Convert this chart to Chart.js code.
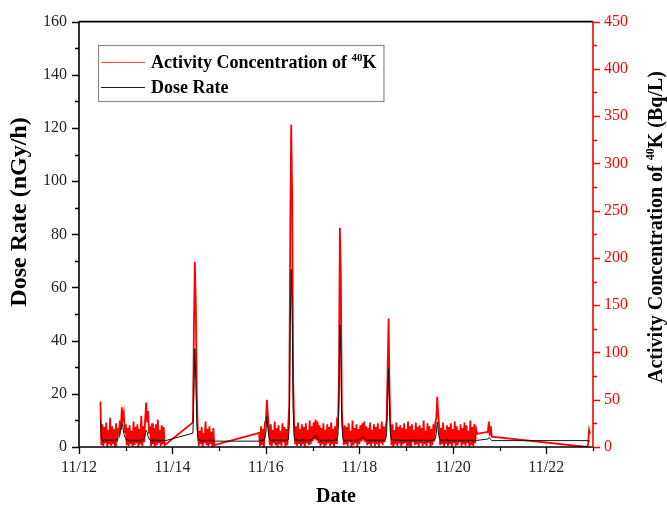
<!DOCTYPE html>
<html>
<head>
<meta charset="utf-8">
<script src="https://cdn.jsdelivr.net/npm/chart.js@4.4.1/dist/chart.umd.min.js"></script>
<style>
  body { margin: 0; background: #fff; }
  #caja { width: 667px; height: 511px; }
</style>
</head>
<body>
<div id="caja"><canvas id="grafico" width="667" height="511"></canvas></div>
<script>
// dias desde 11/12 00:00, una muestra cada 30 min
const inicioTramos = [0.4583, 2.4375, 3.8542, 8.75, 10.875];
const pasoDias = 1 / 48;

const etiquetasFecha = ['11/12', '11/13', '11/14', '11/15', '11/16', '11/17', '11/18', '11/19', '11/20', '11/21', '11/22', '11/23'];

// Actividad 40K (Bq/L)
const actividadA = [48, 2, 24, 1, 21, 4, 26, 0, 18, 3, 31, 1,
  22, 3, 19, 0, 25, 5, 20, 12, 28, 18, 42, 30,
  36, 15, 24, 2, 20, 1, 23, 3, 17, 0, 27, 2,
  21, 4, 24, 0, 19, 3, 33, 1, 22, 5, 30, 47,
  26, 38, 14, 22, 1, 25, 3, 20, 0, 24, 2, 29,
  4, 18, 1, 23, 3, 21, 2];
const actividadB = [26, 120, 196, 150, 55, 18, 1, 17, 3, 21, 0, 15, 4, 27, 2, 19, 1, 22, 3, 16, 0, 20, 2];
const actividadC = [15, 1, 22, 3, 19, 0, 26, 28, 50, 34, 21, 2, 24, 1, 18,
  4, 27, 2, 20, 0, 23, 3, 17, 1, 25, 5, 21, 0, 19, 2,
  24, 45, 230, 341, 260, 70, 24, 3, 22, 1, 26, 4, 19, 1, 24,
  3, 21, 0, 25, 4, 18, 2, 28, 3, 22, 6, 26, 8, 29, 7,
  27, 4, 23, 1, 20, 3, 25, 0, 18, 2, 24, 4, 21, 1, 26,
  3, 19, 0, 22, 4, 27, 24, 70, 232, 180, 40, 20, 2, 23, 3,
  21, 1, 25, 5, 17, 0, 28, 2, 20, 4, 24, 0, 19, 3, 23,
  6, 25, 7, 27, 5, 22, 2, 20, 3, 26, 1, 18, 4, 24, 1,
  21, 3, 25, 0, 19, 4, 27, 2, 22, 5, 20, 28, 80, 136, 60,
  22, 2, 24, 0, 18, 3, 26, 1, 21, 4, 23, 0, 20, 3, 25,
  4, 19, 1, 27, 2, 22, 0, 24, 5, 18, 2, 26, 3, 21, 0,
  23, 4, 20, 1, 28, 3, 17, 1, 25, 4, 22, 0, 19, 2, 24,
  6, 26, 30, 53, 34, 22, 2, 20, 3, 26, 0, 18, 4, 23, 1,
  21, 3, 25, 0, 19, 4, 27, 1, 22, 2, 18, 5, 24, 0, 20,
  3, 26, 1, 23, 4, 17, 0, 28, 2, 21, 1, 24, 4, 19, 14];
const actividadD = [16, 27, 12, 22, 11];
const actividadE = [0, 3, 18, 14];

// Tasa de dosis (nGy/h)
const dosisA = [10, 3.5, 2.6, 2.1, 2.8, 2.3, 2.9, 2.0, 2.6, 2.2, 2.9, 2.3,
  2.7, 2.1, 2.8, 2.4, 3.0, 2.6, 3.2, 3.6, 4.6, 6.4, 9.0, 7.6,
  5.2, 3.8, 3.1, 2.5, 2.9, 2.2, 2.7, 2.0, 2.6, 2.3, 2.9, 2.1,
  2.7, 2.3, 2.8, 2.0, 2.6, 2.4, 3.0, 2.6, 3.1, 3.4, 4.4, 6.3,
  5.5, 3.9, 3.0, 2.7, 2.2, 2.8, 2.1, 2.6, 2.2, 2.9, 2.3, 2.7,
  2.0, 2.6, 2.2, 2.8, 2.1, 2.5, 2.3];
const dosisB = [5.2, 20, 37, 25, 9, 3.5, 2.4, 2.9, 2.1, 2.7, 2.0, 2.6, 2.3, 2.8, 2.1, 2.6, 2.2, 2.9, 2.3, 2.5, 2.0, 2.7, 2.2];
const dosisC = [2.2, 2.6, 2.1, 2.8, 2.3, 2.9, 3.4, 5.6, 11.6, 7.0, 4.0, 3.0, 2.6, 2.2, 2.8,
  2.1, 2.7, 2.3, 2.9, 2.0, 2.6, 2.4, 2.8, 2.1, 2.7, 2.3, 2.6, 2.0, 2.8, 2.4,
  2.7, 8, 45, 66.8, 50, 14, 4.0, 2.8, 2.3, 2.9, 2.2, 2.7, 2.1, 2.8, 2.4,
  2.9, 2.3, 2.7, 2.1, 2.6, 2.4, 2.8, 2.2, 2.9, 2.6, 3.1, 3.5, 4.0, 4.5, 4.0,
  3.4, 2.9, 2.6, 2.2, 2.8, 2.1, 2.7, 2.3, 2.9, 2.0, 2.6, 2.4, 2.8, 2.2, 2.7,
  2.1, 2.6, 2.3, 2.9, 2.4, 3.0, 4.5, 16, 46, 34, 9, 3.6, 2.6, 2.2, 2.8,
  2.1, 2.7, 2.3, 2.8, 2.0, 2.6, 2.2, 2.9, 2.3, 2.7, 2.1, 2.8, 2.4, 2.9, 3.2,
  3.3, 3.6, 3.7, 3.5, 3.1, 2.8, 2.3, 2.7, 2.1, 2.8, 2.2, 2.6, 2.4, 2.9, 2.1,
  2.7, 2.3, 2.8, 2.0, 2.6, 2.4, 2.9, 2.2, 2.7, 2.5, 3.0, 5.0, 17, 29.5, 14,
  5.0, 3.0, 2.6, 2.2, 2.8, 2.1, 2.7, 2.3, 2.9, 2.4, 2.6, 2.0, 2.8, 2.2, 2.7,
  2.1, 2.6, 2.3, 2.9, 2.2, 2.7, 2.0, 2.8, 2.4, 2.6, 2.1, 2.9, 2.3, 2.7, 2.2,
  2.8, 2.1, 2.6, 2.3, 2.9, 2.2, 2.7, 2.0, 2.8, 2.4, 2.6, 2.1, 2.7, 2.3, 2.9,
  2.6, 3.2, 5.0, 9.4, 6.0, 3.6, 2.7, 2.2, 2.8, 2.1, 2.6, 2.4, 2.9, 2.2, 2.7,
  2.0, 2.8, 2.3, 2.6, 2.1, 2.9, 2.2, 2.7, 2.4, 2.8, 2.0, 2.6, 2.3, 2.9, 2.1,
  2.7, 2.2, 2.8, 2.4, 2.6, 2.0, 2.9, 2.3, 2.7, 2.1, 2.8, 2.2, 2.6, 2.4, 2.5];
const dosisD = [3.0, 3.6, 3.3, 2.8, 2.4];
const dosisE = [2.4, 2.3, 2.2, 2.3];

const SERIF = '"Liberation Serif", "Times New Roman", serif';

function armarSerie(tramos) {
  let puntos = [];
  tramos.forEach((valores, t) => {
    valores.forEach((v, i) => {
      puntos.push({ x: inicioTramos[t] + i * pasoDias, y: v });
    });
  });
  return puntos;
}

const serieActividad = armarSerie([actividadA, actividadB, actividadC, actividadD, actividadE]);
const serieDosis = armarSerie([dosisA, dosisB, dosisC, dosisD, dosisE]);

// texto con superindice (40K), alineado a la izquierda en (x, y) sobre la linea base
function textoConIndice(ctx, partes, x, y, tam) {
  const fuerte = 'bold ' + tam + 'px ' + SERIF;
  const chico = 'bold ' + Math.round(tam * 0.62) + 'px ' + SERIF;
  ctx.textAlign = 'left';
  ctx.textBaseline = 'alphabetic';
  ctx.font = fuerte;
  let w0 = ctx.measureText(partes[0]).width;
  ctx.fillText(partes[0], x, y);
  ctx.font = chico;
  let w1 = ctx.measureText(partes[1]).width;
  ctx.fillText(partes[1], x + w0, y - tam * 0.38);
  ctx.font = fuerte;
  ctx.fillText(partes[2], x + w0 + w1, y);
  return w0 + w1 + ctx.measureText(partes[2]).width;
}

function anchoConIndice(ctx, partes, tam) {
  ctx.font = 'bold ' + tam + 'px ' + SERIF;
  let w = ctx.measureText(partes[0]).width + ctx.measureText(partes[2]).width;
  ctx.font = 'bold ' + Math.round(tam * 0.62) + 'px ' + SERIF;
  return w + ctx.measureText(partes[1]).width;
}

// ejes, marcas, titulos y leyenda al estilo Origin
const marcoPlugin = {
  id: 'marco',
  afterDraw(chart) {
    const ctx = chart.ctx;
    const a = chart.chartArea;
    const sx = chart.scales.x;
    const sy = chart.scales.y;
    const sy2 = chart.scales.y2;
    ctx.save();

    // marcas
    ctx.lineWidth = 1.3;
    ctx.strokeStyle = '#000';
    ctx.beginPath();
    for (let d = 0; d <= 11; d++) {
      let px = Math.round(sx.getPixelForValue(d)) + 0.5;
      let len = d % 2 === 0 ? 7 : 4;
      ctx.moveTo(px, a.bottom);
      ctx.lineTo(px, a.bottom + len);
    }
    for (let v = 0; v <= 160; v += 10) {
      let py = Math.round(sy.getPixelForValue(v)) + 0.5;
      let len = v % 20 === 0 ? 7 : 4;
      ctx.moveTo(a.left, py);
      ctx.lineTo(a.left - len, py);
    }
    ctx.stroke();

    ctx.strokeStyle = '#ff0000';
    ctx.beginPath();
    for (let v = 0; v <= 450; v += 25) {
      let py = Math.round(sy2.getPixelForValue(v)) + 0.5;
      let len = v % 50 === 0 ? 7 : 4;
      ctx.moveTo(a.right, py);
      ctx.lineTo(a.right + len, py);
    }
    ctx.stroke();

    // lineas de eje
    ctx.lineWidth = 1.6;
    ctx.strokeStyle = '#000';
    ctx.beginPath();
    ctx.moveTo(a.left, a.top);
    ctx.lineTo(a.left, a.bottom);
    ctx.lineTo(a.right, a.bottom);
    ctx.moveTo(a.left, a.top);
    ctx.lineTo(a.right, a.top);
    ctx.stroke();
    ctx.strokeStyle = '#ff0000';
    ctx.beginPath();
    ctx.moveTo(a.right, a.top);
    ctx.lineTo(a.right, a.bottom);
    ctx.stroke();

    // titulos
    ctx.fillStyle = '#000';
    ctx.font = 'bold 20px ' + SERIF;
    ctx.textAlign = 'center';
    ctx.textBaseline = 'middle';
    ctx.fillText('Date', (a.left + a.right) / 2, 497);

    ctx.save();
    ctx.translate(26, 212);
    ctx.rotate(-Math.PI / 2);
    ctx.font = 'bold 24px ' + SERIF;
    ctx.textAlign = 'center';
    ctx.textBaseline = 'alphabetic';
    ctx.fillText('Dose Rate (nGy/h)', 0, 0);
    ctx.restore();

    const partesDer = ['Activity Concentration of ', '40', 'K (Bq/L)'];
    ctx.save();
    ctx.translate(662, 227);
    ctx.rotate(-Math.PI / 2);
    let wDer = anchoConIndice(ctx, partesDer, 20);
    textoConIndice(ctx, partesDer, -wDer / 2, 0, 20);
    ctx.restore();

    // leyenda
    const partesLey = ['Activity Concentration of ', '40', 'K'];
    let wLey = anchoConIndice(ctx, partesLey, 18);
    let anchoCaja = 151 + wLey + 7 - 98;
    ctx.fillStyle = '#fff';
    ctx.fillRect(98, 45, anchoCaja, 56);
    ctx.strokeStyle = '#8a8a8a';
    ctx.lineWidth = 1.2;
    ctx.strokeRect(98.5, 45.5, anchoCaja, 56);
    ctx.lineWidth = 1;
    ctx.strokeStyle = '#ff4040';
    ctx.beginPath();
    ctx.moveTo(101, 62.5);
    ctx.lineTo(145, 62.5);
    ctx.stroke();
    ctx.strokeStyle = '#222';
    ctx.beginPath();
    ctx.moveTo(101, 87.5);
    ctx.lineTo(145, 87.5);
    ctx.stroke();
    ctx.fillStyle = '#000';
    textoConIndice(ctx, partesLey, 151, 68, 18);
    ctx.font = 'bold 18px ' + SERIF;
    ctx.fillText('Dose Rate', 151, 93);

    ctx.restore();
  }
};

new Chart(document.getElementById('grafico'), {
  type: 'line',
  data: {
    datasets: [
      {
        label: 'Dose Rate',
        data: serieDosis,
        yAxisID: 'y',
        borderColor: '#111',
        borderWidth: 1,
        pointRadius: 0,
        tension: 0,
      },
      {
        label: 'Activity Concentration of 40K',
        data: serieActividad,
        yAxisID: 'y2',
        borderColor: '#ff0000',
        borderWidth: 1.8,
        pointRadius: 0,
        tension: 0,
      },
    ],
  },
  options: {
    responsive: false,
    animation: false,
    layout: { padding: { top: 18, left: 0, right: 0, bottom: 0 } },
    plugins: {
      legend: { display: false },
      tooltip: { enabled: false },
    },
    scales: {
      x: {
        type: 'linear',
        min: 0,
        max: 11,
        grid: { display: false, drawTicks: false },
        border: { display: false },
        ticks: {
          stepSize: 1,
          padding: 11,
          maxRotation: 0,
          autoSkip: false,
          color: '#222',
          font: { family: SERIF, size: 16 },
          callback: (v) => (v % 2 === 0 ? etiquetasFecha[v] : ''),
        },
        afterFit: (s) => { s.height = 64; },
      },
      y: {
        position: 'left',
        min: 0,
        max: 160,
        grid: { display: false, drawTicks: false },
        border: { display: false },
        ticks: {
          stepSize: 20,
          padding: 12,
          color: '#222',
          font: { family: SERIF, size: 16 },
        },
        afterFit: (s) => { s.width = 79; },
      },
      y2: {
        position: 'right',
        min: 0,
        max: 450,
        grid: { display: false, drawTicks: false },
        border: { display: false },
        ticks: {
          stepSize: 50,
          padding: 11,
          color: '#ff0000',
          font: { family: SERIF, size: 16 },
        },
        afterFit: (s) => { s.width = 74; },
      },
    },
  },
  plugins: [marcoPlugin],
});
</script>
</body>
</html>
